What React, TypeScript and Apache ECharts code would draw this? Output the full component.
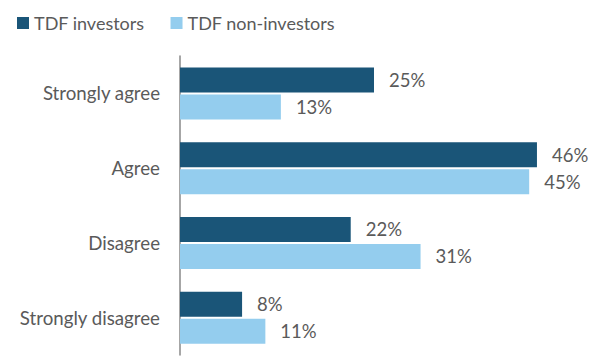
import React, { useEffect, useRef } from "react";
import * as echarts from "echarts";

const categories = ["Strongly agree", "Agree", "Disagree", "Strongly disagree"];
const seriesNames = ["TDF investors", "TDF non-investors"];
const investors = [25, 46, 22, 8];
const nonInvestors = [13, 45, 31, 11];

const FONT = "Lato, 'Open Sans', sans-serif";
const TEXT = "#5a5a5a";

export default function App() {
  const ref = useRef<HTMLDivElement>(null);
  useEffect(() => {
    if (!ref.current) return;
    const chart = echarts.init(ref.current, null, { renderer: "svg" });
    const label = {
      show: true,
      position: "right",
      distance: 15,
      formatter: "{c}%",
      fontFamily: FONT,
      fontSize: 18.5,
      color: TEXT,
    };
    chart.setOption({
      animation: false,
      legend: {
        left: 12,
        top: 9,
        itemWidth: 12,
        itemHeight: 12,
        itemGap: 26,
        icon: "rect",
        textStyle: { fontFamily: FONT, fontSize: 18, color: TEXT },
        data: seriesNames,
      },
      grid: { left: 180, right: 27, top: 56, bottom: 8 },
      xAxis: {
        type: "value",
        min: 0,
        max: 50,
        show: false,
      },
      yAxis: {
        type: "category",
        inverse: true,
        data: categories,
        axisLine: { show: true, lineStyle: { color: "#888", width: 1.5 } },
        axisTick: { show: false },
        axisLabel: { fontFamily: FONT, fontSize: 18.7, color: TEXT, margin: 20 },
      },
      series: [
        {
          name: seriesNames[0],
          type: "bar",
          data: investors,
          barWidth: 25,
          barGap: "8%",
          itemStyle: { color: "#1a5578" },
          label,
        },
        {
          name: seriesNames[1],
          type: "bar",
          data: nonInvestors,
          barWidth: 25,
          itemStyle: { color: "#94cdee" },
          label,
        },
      ],
    });
    return () => chart.dispose();
  }, []);
  return <div ref={ref} style={{ width: 595, height: 363, position: "absolute", left: 0, top: 0, background: "#fff" }} />;
}
